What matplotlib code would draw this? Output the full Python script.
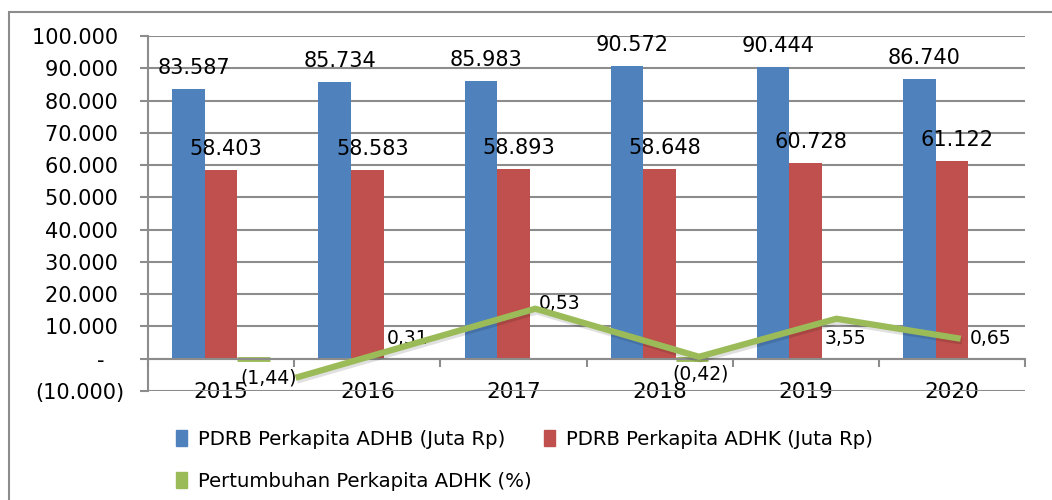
import numpy as np
import matplotlib
matplotlib.use("Agg")
import matplotlib.pyplot as plt
from matplotlib.patches import Patch, Rectangle
import matplotlib.patheffects as pe

# data
years = ["2015", "2016", "2017", "2018", "2019", "2020"]
adhb = [83587, 85734, 85983, 90572, 90444, 86740]
adhk = [58403, 58583, 58893, 58648, 60728, 61122]
growth = [-1.44, 0.31, 0.53, -0.42, 3.55, 0.65]
growth_labels = ["(1,44)", "0,31", "0,53", "(0,42)", "3,55", "0,65"]
# the green line in the picture (drawn shape, in category / axis units)
trend_pos = [0.51, 2.15, 3.27, 4.21, 5.06]
trend_val = [-5900, 15500, 600, 12400, 6200]
yticks = [-10000, 0, 10000, 20000, 30000, 40000, 50000, 60000, 70000, 80000, 90000, 100000]
ytick_labels = ["(10.000)", "-   ", "10.000 ", "20.000 ", "30.000 ", "40.000 ", "50.000 ",
                "60.000 ", "70.000 ", "80.000 ", "90.000 ", "100.000 "]
legend_names = ["PDRB Perkapita ADHB (Juta Rp)", "PDRB Perkapita ADHK (Juta Rp)",
                "Pertumbuhan Perkapita ADHK (%)"]

BLUE = "#4F81BD"
RED = "#C0504D"
GREEN = "#9BBB59"
GRID = "#8C8C8C"

W, H = 1052, 500
fig = plt.figure(figsize=(W / 100, H / 100), dpi=100)
plt.rcParams['font.family'] = 'DejaVu Sans'

# outer frame (cut off at right and bottom)
fig.patches.append(Rectangle((9 / W, -0.1), 1.2, 1 - 12 / H + 0.1, transform=fig.transFigure,
                             fill=False, edgecolor=GRID, linewidth=1.5))

ax = fig.add_axes([148 / W, 1 - 391 / H, (1025 - 148) / W, (391 - 36) / H])
x = np.arange(len(years))
bw = 0.2226

b1 = ax.bar(x - bw, adhb, bw, color=BLUE, zorder=3)
b2 = ax.bar(x, adhk, bw, color=RED, zorder=3)
b3 = ax.bar(x + bw, growth, bw, color=GREEN, zorder=2)
# tiny bars only show as a thin stroke below the axis when negative
for p, v in zip(b3.patches, growth):
    p.set_edgecolor(GREEN)
    p.set_linewidth(3.5 if v < 0 else 0)
    p.set_zorder(3 if v < 0 else 2)

ax.plot(trend_pos, trend_val, color=GREEN, linewidth=4.5, zorder=5, solid_capstyle='butt',
        path_effects=[pe.SimpleLineShadow(offset=(1, -2), alpha=0.12), pe.Normal()])

for i in range(len(years)):
    ax.annotate(f"{adhb[i]:,}".replace(",", "."), (x[i] - bw, adhb[i]), xytext=(5, 21),
                textcoords='offset pixels', ha='center', va='center', fontsize=15, zorder=6)
    ax.annotate(f"{adhk[i]:,}".replace(",", "."), (x[i], adhk[i]), xytext=(5, 21),
                textcoords='offset pixels', ha='center', va='center', fontsize=15, zorder=6)

g_off = [(15, -19), (8, 20), (14, 55), (8, -15), (7, 20), (6, 20)]
for i in range(len(years)):
    ax.annotate(growth_labels[i], (x[i] + bw, 0), xytext=g_off[i], textcoords='offset pixels',
                ha='center', va='center', fontsize=13.5, zorder=4)

ax.set_xlim(-0.5, 5.5)
ax.set_ylim(-10000, 100000)
ax.set_yticks(yticks)
ax.set_yticklabels(ytick_labels, fontsize=15)
ax.yaxis.grid(True, color=GRID, linewidth=1.5, zorder=0)
ax.set_axisbelow(True)
ax.tick_params(axis='y', length=6, width=1.5, color=GRID, pad=11)

ax.spines['bottom'].set_position(('data', 0))
ax.spines['bottom'].set_color(GRID)
ax.spines['bottom'].set_linewidth(1.5)
ax.spines['bottom'].set_zorder(4)
ax.spines['left'].set_color(GRID)
ax.spines['left'].set_linewidth(1.5)
ax.spines['top'].set_visible(False)
ax.spines['right'].set_visible(False)

ax.set_xticks(x)
ax.set_xticklabels(years, fontsize=15.5)
ax.set_xticks(np.arange(-0.5, 6, 1), minor=True)
ax.tick_params(axis='x', which='major', length=0, pad=17)
ax.tick_params(axis='x', which='minor', length=6, width=1.5, color=GRID, direction='out')

handles = [Patch(color=BLUE), Patch(color=GREEN), Patch(color=RED)]
labels = [legend_names[0], legend_names[2], legend_names[1]]
fig.legend(handles, labels, loc='upper left', bbox_to_anchor=(168 / W, 1 - 422 / H), ncol=2,
           frameon=False, fontsize=14.2, handlelength=0.55, handleheight=0.85, handletextpad=0.55,
           columnspacing=0.65, labelspacing=1.15, borderaxespad=0)

fig.savefig("out.png", dpi=100)
